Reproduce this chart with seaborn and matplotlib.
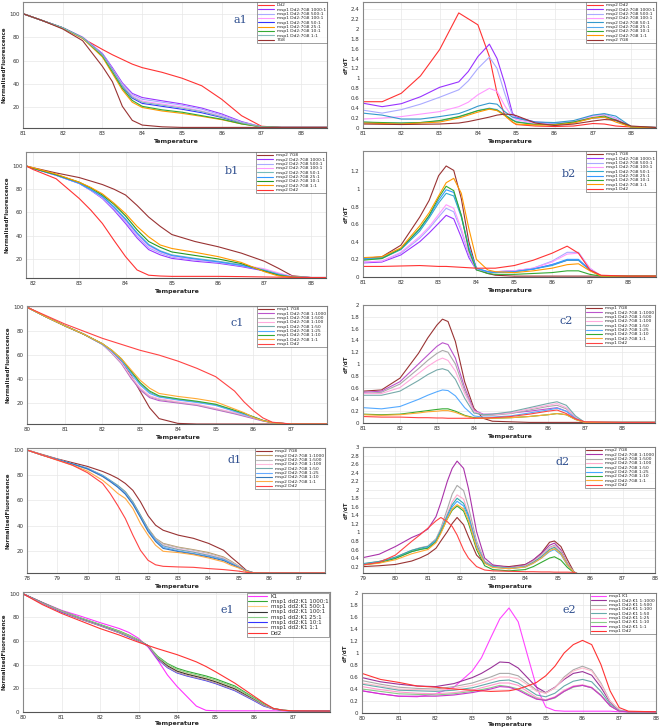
import numpy as np
import matplotlib
matplotlib.use("Agg")
import matplotlib.pyplot as plt
import seaborn as sns

sns.set_theme(style="whitegrid")
plt.rcParams['font.family'] = ['DejaVu Sans']

# ---------------- data ----------------
# a1: normalised fluorescence
A1_T = [81, 81.5, 82, 82.5, 83, 83.25, 83.5, 83.75, 84, 84.5, 85, 85.5, 86, 86.5, 87, 87.5, 88.65]
A1_LABELS = ["Dd2", "msp1 Dd2:7G8 1000:1", "msp1 Dd2:7G8 500:1", "msp1 Dd2:7G8 100:1",
             "msp1 Dd2:7G8 50:1", "msp1 Dd2:7G8 25:1", "msp1 Dd2:7G8 10:1", "msp1 Dd2:7G8 1:1", "7G8"]
A1_Y = [
    [100, 94, 88, 79, 69.5, 65, 61, 57, 54, 50, 45, 38.5, 27, 13, 4, 3, 3],
    [100, 94, 88, 80, 66, 54, 41, 32, 28.5, 25.7, 23, 19.5, 14.5, 8, 3.5, 3, 3],
    [100, 94, 88, 80, 65.5, 53, 40, 31, 27, 24.5, 22, 18.5, 13.5, 7.5, 3.5, 3, 3],
    [100, 94, 88, 80, 65, 52.5, 39, 30, 25.5, 23, 20.5, 17, 12.5, 7, 3.5, 3, 3],
    [100, 94, 88, 79.5, 65, 52, 38, 28, 23.5, 21, 18.5, 15.5, 11.5, 6.5, 3.5, 3, 3],
    [100, 94, 87.5, 79, 63, 49, 35, 24.5, 20, 17, 15, 12.4, 9.6, 6, 3.5, 3, 3],
    [100, 94, 88, 79.5, 64, 50.5, 36.5, 26, 21, 18, 16, 13, 10, 6, 3.5, 3, 3],
    [100, 94, 88, 79.5, 65, 52, 38.5, 29, 24.5, 22, 19.5, 16.5, 12, 7, 3.5, 3, 3],
    [100, 94, 87, 77, 55, 42, 21, 9, 5, 3.5, 3, 3, 3, 3, 3, 3, 3],
]

# a2: dF/dT
A2_T = [81, 81.5, 82, 82.5, 83, 83.5, 83.75, 84, 84.3, 84.5, 84.7, 84.9, 85, 85.5, 86, 86.5, 87, 87.3, 87.6, 88, 88.65]
A2_LABELS = ["msp2 Dd2", "msp2 Dd2:7G8 1000:1", "msp2 Dd2:7G8 500:1", "msp2 Dd2:7G8 100:1",
             "msp2 Dd2:7G8 50:1", "msp2 Dd2:7G8 25:1", "msp2 Dd2:7G8 10:1", "msp2 Dd2:7G8 1:1", "msp2 7G8"]
A2_Y = [
    [0.53, 0.53, 0.7, 1.05, 1.58, 2.32, 2.2, 2.08, 1.44, 0.7, 0.26, 0.12, 0.07, 0.04, 0.03, 0.04, 0.09, 0.08, 0.04, 0.02, 0.01],
    [0.5, 0.43, 0.49, 0.63, 0.82, 0.93, 1.14, 1.44, 1.69, 1.4, 0.9, 0.3, 0.22, 0.12, 0.1, 0.12, 0.2, 0.22, 0.15, 0.02, 0.01],
    [0.36, 0.3, 0.37, 0.48, 0.62, 0.77, 0.95, 1.2, 1.43, 1.2, 0.7, 0.26, 0.2, 0.1, 0.1, 0.12, 0.25, 0.28, 0.2, 0.02, 0.01],
    [0.18, 0.2, 0.23, 0.28, 0.33, 0.43, 0.52, 0.67, 0.8, 0.74, 0.45, 0.22, 0.17, 0.09, 0.08, 0.13, 0.24, 0.26, 0.18, 0.02, 0.01],
    [0.3, 0.26, 0.18, 0.18, 0.23, 0.29, 0.36, 0.44, 0.5, 0.48, 0.33, 0.22, 0.2, 0.12, 0.11, 0.15, 0.26, 0.29, 0.24, 0.03, 0.01],
    [0.12, 0.1, 0.1, 0.11, 0.14, 0.22, 0.28, 0.35, 0.4, 0.37, 0.27, 0.17, 0.13, 0.07, 0.08, 0.12, 0.2, 0.22, 0.15, 0.02, 0.01],
    [0.12, 0.11, 0.1, 0.11, 0.15, 0.23, 0.29, 0.35, 0.39, 0.36, 0.26, 0.16, 0.12, 0.07, 0.07, 0.12, 0.21, 0.24, 0.16, 0.02, 0.01],
    [0.1, 0.09, 0.08, 0.1, 0.12, 0.2, 0.26, 0.32, 0.38, 0.35, 0.25, 0.12, 0.08, 0.06, 0.06, 0.1, 0.2, 0.22, 0.12, 0.02, 0.01],
    [0.08, 0.075, 0.07, 0.075, 0.08, 0.1, 0.13, 0.17, 0.22, 0.26, 0.28, 0.27, 0.25, 0.1, 0.05, 0.08, 0.14, 0.17, 0.16, 0.04, 0.01],
]

# b1
B1_T = [81.85, 82, 82.5, 83, 83.25, 83.5, 83.75, 84, 84.25, 84.5, 84.75, 85, 85.5, 86, 86.5, 87, 87.3, 87.6, 88, 88.33]
B1_LABELS = ["msp2 7G8", "msp2 Dd2:7G8 1000:1", "msp2 Dd2:7G8 500:1", "msp2 Dd2:7G8 100:1",
             "msp2 Dd2:7G8 50:1", "msp2 Dd2:7G8 25:1", "msp2 Dd2:7G8 10:1", "msp2 Dd2:7G8 1:1", "msp2 Dd2"]
B1_Y = [
    [100, 98.5, 94, 90, 87, 84, 80, 75, 66, 56, 48, 41, 35, 30.5, 25, 18, 12, 5.5, 4, 4],
    [100, 98, 92, 85, 79, 72, 62, 50.5, 38, 28, 23.5, 20.5, 18, 16.3, 13.4, 9.7, 7, 4.5, 4, 4],
    [100, 98, 92, 85, 79, 72.5, 63, 52, 39.5, 29.5, 25, 21.5, 19, 17, 14, 10.5, 7.5, 4.7, 4, 4],
    [100, 98, 92, 85, 79.5, 73, 64, 53, 41, 31, 26, 22.5, 19.5, 17.5, 15, 11.5, 8, 5, 4, 4],
    [100, 98, 92.5, 85.5, 80, 74, 65, 54.5, 42.5, 32.5, 27, 23.5, 20.5, 18, 15, 10.5, 7, 4.5, 4, 4],
    [100, 98, 92, 85, 79.5, 73.5, 64.5, 54, 42, 32, 26.5, 23, 20, 17.5, 14.5, 10, 6.5, 4.5, 4, 4],
    [100, 98, 92.5, 86, 81, 75, 67, 57, 45, 35, 30, 26, 23, 20, 16, 9.5, 6, 4.3, 4, 4],
    [100, 98.5, 93, 86, 81.5, 76, 68, 59, 48, 39, 32, 29, 25.7, 22, 17, 9, 5.4, 4.3, 4, 4],
    [100, 97, 89, 72, 62, 50.5, 36, 22, 10.5, 6, 5.3, 5, 5, 5, 4.8, 4.5, 4.3, 4.2, 4, 4],
]

# b2
B2_T = [81, 81.5, 82, 82.5, 82.75, 83, 83.2, 83.4, 83.6, 83.8, 84, 84.3, 84.5, 85, 85.5, 86, 86.4, 86.7, 87, 87.3, 88, 88.75]
B2_LABELS = ["msp1 7G8", "msp1 Dd2:7G8 1000:1", "msp1 Dd2:7G8 500:1", "msp1 Dd2:7G8 100:1",
             "msp1 Dd2:7G8 50:1", "msp1 Dd2:7G8 25:1", "msp1 Dd2:7G8 10:1", "msp1 Dd2:7G8 1:1", "msp1 Dd2"]
B2_Y = [
    [0.21, 0.23, 0.36, 0.68, 0.87, 1.15, 1.26, 1.21, 0.89, 0.4, 0.09, 0.04, 0.02, 0.01, 0.01, 0.01, 0.01, 0.01, 0.01, 0.01, 0.01, 0.01],
    [0.16, 0.17, 0.25, 0.4, 0.5, 0.61, 0.7, 0.66, 0.45, 0.22, 0.08, 0.06, 0.06, 0.07, 0.09, 0.14, 0.19, 0.19, 0.08, 0.01, 0.01, 0.01],
    [0.17, 0.18, 0.27, 0.44, 0.55, 0.68, 0.78, 0.74, 0.52, 0.25, 0.08, 0.06, 0.06, 0.07, 0.1, 0.18, 0.28, 0.28, 0.1, 0.01, 0.01, 0.01],
    [0.17, 0.18, 0.28, 0.46, 0.57, 0.71, 0.82, 0.78, 0.55, 0.27, 0.09, 0.06, 0.06, 0.07, 0.1, 0.17, 0.26, 0.27, 0.1, 0.01, 0.01, 0.01],
    [0.2, 0.21, 0.31, 0.52, 0.67, 0.84, 0.95, 0.92, 0.68, 0.33, 0.1, 0.06, 0.05, 0.06, 0.09, 0.13, 0.19, 0.19, 0.08, 0.01, 0.01, 0.01],
    [0.21, 0.22, 0.32, 0.54, 0.69, 0.87, 0.99, 0.96, 0.7, 0.33, 0.1, 0.06, 0.05, 0.06, 0.09, 0.14, 0.2, 0.2, 0.08, 0.01, 0.01, 0.01],
    [0.19, 0.21, 0.32, 0.55, 0.7, 0.9, 1.03, 0.98, 0.7, 0.3, 0.08, 0.04, 0.03, 0.03, 0.04, 0.05, 0.07, 0.07, 0.03, 0.01, 0.01, 0.01],
    [0.22, 0.23, 0.33, 0.58, 0.73, 0.92, 1.07, 1.12, 0.95, 0.55, 0.2, 0.08, 0.06, 0.05, 0.07, 0.1, 0.14, 0.15, 0.07, 0.01, 0.01, 0.01],
    [0.12, 0.12, 0.125, 0.13, 0.125, 0.12, 0.12, 0.115, 0.11, 0.105, 0.1, 0.1, 0.1, 0.13, 0.19, 0.27, 0.35, 0.27, 0.08, 0.02, 0.01, 0.01],
]

# c1
C1_T = [80, 80.5, 81, 81.5, 82, 82.25, 82.5, 82.75, 83, 83.25, 83.5, 84, 84.5, 85, 85.5, 85.75, 86, 86.25, 86.5, 87, 88]
C1_LABELS = ["msp1 7G8", "msp1 Dd2:7G8 1:1000", "msp1 Dd2:7G8 1:500", "msp1 Dd2:7G8 1:100",
             "msp1 Dd2:7G8 1:50", "msp1 Dd2:7G8 1:25", "msp1 Dd2:7G8 1:10", "msp1 Dd2:7G8 1:1", "msp1 Dd2"]
C1_Y = [
    [100, 92, 84.5, 77.5, 69, 63, 54.5, 43.5, 29.7, 16, 7, 3, 2.5, 2.5, 2.5, 2.5, 2.5, 2.5, 2.5, 2.5, 2.5],
    [100, 92, 84.5, 77.5, 69, 61.5, 53, 41, 31, 24.5, 22, 20, 18, 14.5, 11, 9, 7, 5, 3.5, 2.5, 2.5],
    [100, 92, 84.5, 77.5, 69, 61.5, 53.5, 42, 32, 25.5, 23, 20.5, 18.5, 15, 11.5, 9.5, 7.5, 5.5, 3.7, 2.5, 2.5],
    [100, 92, 84.5, 77.5, 69, 62, 54, 42.5, 32.5, 26, 23.5, 21, 19, 15.5, 12, 10, 7.8, 5.5, 3.7, 2.5, 2.5],
    [100, 92, 84.5, 77.5, 69.5, 63.5, 56, 46, 36, 29, 25.5, 23, 21, 18.5, 13.5, 11, 8.5, 5.5, 3.6, 2.5, 2.5],
    [100, 92, 84.5, 77.5, 69, 63, 55.5, 45, 35, 28, 25, 22.5, 20.5, 18, 13, 10.5, 8, 5.3, 3.5, 2.5, 2.5],
    [100, 92, 84.5, 77.5, 69.5, 64, 57, 47, 37, 30, 26, 23.5, 21.5, 19, 14, 11.5, 8.5, 5.5, 3.6, 2.5, 2.5],
    [100, 92, 84.5, 77.5, 69.5, 64, 57, 48, 39, 32.4, 28, 25.5, 23.6, 21, 15, 12, 8, 5.3, 3.5, 2.5, 2.5],
    [100, 93, 86, 80, 74, 71.5, 69, 66.5, 64, 62, 60, 55, 49, 42, 30, 21, 13.6, 7.6, 4, 2.5, 2.5],
]

# c2
C2_T = [81, 81.5, 82, 82.5, 82.75, 83, 83.15, 83.3, 83.5, 83.75, 84, 84.25, 84.5, 85, 85.5, 86, 86.25, 86.5, 86.75, 87, 88, 88.9]
C2_LABELS = C1_LABELS
C2_Y = [
    [0.54, 0.56, 0.76, 1.18, 1.44, 1.66, 1.76, 1.72, 1.38, 0.7, 0.25, 0.08, 0.03, 0.02, 0.01, 0.01, 0.01, 0.01, 0.01, 0.01, 0.01, 0.01],
    [0.52, 0.54, 0.7, 1.0, 1.15, 1.3, 1.36, 1.33, 1.1, 0.6, 0.22, 0.15, 0.15, 0.17, 0.2, 0.24, 0.26, 0.2, 0.08, 0.01, 0.01, 0.01],
    [0.5, 0.52, 0.66, 0.92, 1.06, 1.18, 1.23, 1.2, 1.0, 0.55, 0.2, 0.13, 0.13, 0.16, 0.22, 0.28, 0.3, 0.24, 0.1, 0.01, 0.01, 0.01],
    [0.5, 0.5, 0.6, 0.84, 0.96, 1.06, 1.1, 1.06, 0.88, 0.5, 0.2, 0.14, 0.14, 0.17, 0.24, 0.3, 0.33, 0.26, 0.1, 0.01, 0.01, 0.01],
    [0.47, 0.47, 0.54, 0.72, 0.82, 0.9, 0.92, 0.89, 0.74, 0.42, 0.17, 0.14, 0.15, 0.19, 0.26, 0.33, 0.36, 0.3, 0.12, 0.01, 0.01, 0.01],
    [0.26, 0.24, 0.28, 0.4, 0.47, 0.53, 0.56, 0.55, 0.46, 0.26, 0.12, 0.1, 0.1, 0.12, 0.17, 0.22, 0.25, 0.2, 0.08, 0.01, 0.01, 0.01],
    [0.15, 0.14, 0.15, 0.19, 0.21, 0.23, 0.24, 0.24, 0.2, 0.13, 0.09, 0.08, 0.08, 0.09, 0.11, 0.14, 0.16, 0.14, 0.06, 0.01, 0.01, 0.01],
    [0.14, 0.13, 0.14, 0.17, 0.19, 0.2, 0.21, 0.21, 0.18, 0.12, 0.08, 0.08, 0.08, 0.09, 0.11, 0.14, 0.16, 0.14, 0.06, 0.01, 0.01, 0.01],
    [0.11, 0.1, 0.1, 0.09, 0.09, 0.085, 0.085, 0.08, 0.08, 0.08, 0.08, 0.085, 0.09, 0.11, 0.15, 0.2, 0.22, 0.16, 0.07, 0.02, 0.01, 0.01],
]

# d1
D1_T = [78, 78.5, 79, 79.5, 80, 80.5, 80.75, 81, 81.25, 81.5, 81.75, 82, 82.25, 82.5, 83, 83.5, 84, 84.5, 84.75, 85, 85.25, 85.5, 86, 87, 87.9]
D1_LABELS = ["msp2 7G8", "msp2 Dd2:7G8 1:1000", "msp2 Dd2:7G8 1:500", "msp2 Dd2:7G8 1:100",
             "msp2 Dd2:7G8 1:50", "msp2 Dd2:7G8 1:25", "msp2 Dd2:7G8 1:10", "msp2 Dd2:7G8 1:1", "msp2 Dd2"]
D1_Y = [
    [100, 96.5, 93, 90, 87, 83, 80.5, 77.5, 73.5, 68, 59, 48, 40.4, 36.4, 32.5, 30, 26, 20.5, 15, 10, 4.6, 2.6, 2.5, 2.5, 2.5],
    [100, 96, 92.5, 89, 85, 79.5, 75.5, 71.5, 66.5, 58.5, 48, 38, 30, 26, 23, 21, 18.7, 15.2, 11.8, 8, 4, 2.6, 2.5, 2.5, 2.5],
    [100, 96, 92.5, 89, 85, 79.5, 75.5, 71.5, 66.5, 58.5, 48, 37.5, 29.5, 25.5, 22.5, 20.5, 18, 14.5, 11.3, 7.7, 4, 2.6, 2.5, 2.5, 2.5],
    [100, 96, 92.5, 89, 85, 79, 75, 71, 66, 58, 47.5, 37, 29, 24.5, 21.5, 19.5, 17, 14, 10.8, 7.4, 4, 2.6, 2.5, 2.5, 2.5],
    [100, 96, 92.5, 89, 85.5, 80, 76, 72, 67, 59, 48.5, 37.5, 29, 24, 21, 19, 16.5, 13.5, 10.5, 7.2, 4, 2.6, 2.5, 2.5, 2.5],
    [100, 96, 92.5, 89, 85.5, 79.5, 75.5, 71, 65.6, 57.6, 47, 36.4, 28.5, 23, 20, 18, 15.8, 13, 10, 7, 4, 2.6, 2.5, 2.5, 2.5],
    [100, 96, 92.5, 89, 85, 79, 75, 70.5, 65, 57, 46.5, 35.5, 27.5, 22, 19.5, 17.5, 15.2, 12.3, 9.5, 6.8, 4, 2.6, 2.5, 2.5, 2.5],
    [100, 96, 92, 88, 83.3, 76, 71, 65.6, 61.6, 53.6, 41.7, 32.5, 24.5, 19.7, 18.7, 17, 14.4, 11.3, 8.6, 6.5, 3.8, 2.6, 2.5, 2.5, 2.5],
    [100, 96, 92, 88, 82, 73.5, 65.5, 56, 45.7, 32.5, 20.5, 12.6, 9, 7.8, 7.3, 7, 6, 5.2, 4.6, 4, 3, 2.5, 2.5, 2.5, 2.5],
]

# d2
D2_T = [79, 79.5, 80, 80.5, 80.75, 81, 81.25, 81.4, 81.6, 81.75, 81.9, 82.1, 82.25, 82.5, 82.75, 83, 83.5,
        84, 84.25, 84.5, 84.75, 84.9, 85.1, 85.3, 85.5, 85.7, 86, 87, 88]
D2_LABELS = D1_LABELS
D2_Y = [
    [0.2, 0.22, 0.25, 0.33, 0.4, 0.49, 0.63, 0.8, 1.02, 1.21, 1.35, 1.18, 0.9, 0.47, 0.28, 0.22, 0.2, 0.25, 0.35, 0.52, 0.77, 0.8, 0.67, 0.36, 0.08, 0.0, 0.0, 0.0, 0.0],
    [0.41, 0.49, 0.67, 0.88, 0.96, 1.08, 1.37, 1.7, 2.2, 2.5, 2.67, 2.5, 2.03, 1.02, 0.4, 0.24, 0.18, 0.24, 0.36, 0.51, 0.7, 0.75, 0.59, 0.28, 0.07, 0.0, 0.0, 0.0, 0.0],
    [0.26, 0.32, 0.42, 0.58, 0.64, 0.68, 0.85, 1.1, 1.55, 1.9, 2.1, 1.98, 1.6, 0.8, 0.33, 0.21, 0.17, 0.22, 0.33, 0.47, 0.65, 0.7, 0.56, 0.27, 0.07, 0.0, 0.0, 0.0, 0.0],
    [0.26, 0.32, 0.42, 0.57, 0.63, 0.67, 0.83, 1.06, 1.45, 1.72, 1.88, 1.78, 1.45, 0.74, 0.31, 0.2, 0.16, 0.21, 0.32, 0.45, 0.63, 0.68, 0.55, 0.26, 0.07, 0.0, 0.0, 0.0, 0.0],
    [0.27, 0.32, 0.42, 0.58, 0.63, 0.67, 0.82, 1.05, 1.4, 1.65, 1.8, 1.68, 1.4, 0.7, 0.3, 0.2, 0.16, 0.2, 0.3, 0.43, 0.6, 0.65, 0.52, 0.25, 0.07, 0.0, 0.0, 0.0, 0.0],
    [0.25, 0.3, 0.4, 0.55, 0.6, 0.65, 0.8, 1.02, 1.36, 1.6, 1.73, 1.62, 1.35, 0.68, 0.29, 0.19, 0.15, 0.19, 0.28, 0.4, 0.55, 0.6, 0.48, 0.23, 0.07, 0.0, 0.0, 0.0, 0.0],
    [0.24, 0.29, 0.39, 0.55, 0.6, 0.63, 0.78, 1.0, 1.32, 1.52, 1.62, 1.5, 1.22, 0.6, 0.22, 0.13, 0.1, 0.13, 0.2, 0.3, 0.4, 0.43, 0.35, 0.18, 0.06, 0.0, 0.0, 0.0, 0.0],
    [0.24, 0.28, 0.36, 0.5, 0.55, 0.6, 0.76, 0.98, 1.32, 1.55, 1.65, 1.55, 1.28, 0.65, 0.28, 0.18, 0.15, 0.19, 0.28, 0.4, 0.57, 0.62, 0.5, 0.24, 0.07, 0.0, 0.0, 0.0, 0.0],
    [0.24, 0.3, 0.47, 0.79, 0.94, 1.1, 1.27, 1.35, 1.25, 1.14, 0.94, 0.59, 0.4, 0.2, 0.12, 0.1, 0.09, 0.08, 0.08, 0.075, 0.075, 0.07, 0.07, 0.07, 0.065, 0.0, 0.0, 0.0, 0.0],
]

# e1
E1_T = [80, 80.5, 81, 81.5, 82, 82.5, 82.75, 83, 83.25, 83.5, 83.75, 84, 84.25, 84.5, 84.75, 85, 85.5, 86, 86.25, 86.5, 86.75, 87, 88, 88.2]
E1_LABELS = ["K1", "msp1 dd2:K1 1000:1", "msp1 dd2:K1 500:1", "msp1 dd2:K1 100:1",
             "msp1 dd2:K1 25:1", "msp1 dd2:K1 10:1", "msp1 dd2:K1 1:1", "Dd2"]
E1_Y = [
    [100, 92.8, 86, 81, 75.6, 70.6, 67.3, 62.3, 54.8, 43.8, 31.3, 21.6, 13.3, 5, 1.4, 1, 1, 1, 1, 1, 0.9, 0.8, 0.8, 0.8],
    [100, 92.5, 85.5, 79.5, 74, 68.5, 65, 61, 56, 47, 41, 37, 34.5, 32.5, 30.5, 28, 22, 12, 7, 3, 1.5, 1, 0.8, 0.8],
    [100, 92.5, 85, 79, 73.5, 68, 64.5, 60.5, 56, 46, 39.5, 35, 32.5, 30.5, 28.5, 26, 20, 11, 6, 2.8, 1.4, 1, 0.8, 0.8],
    [100, 92.5, 85, 79, 73.5, 67.5, 64, 60.5, 56, 45.5, 39, 34.5, 32, 30, 28, 25.5, 19.5, 10.5, 6, 2.8, 1.4, 1, 0.8, 0.8],
    [100, 92.5, 85.5, 79.5, 74, 68, 64.5, 61, 56, 46.5, 40.5, 36, 33.5, 31.5, 29.5, 27, 21, 11.5, 6.5, 3, 1.5, 1, 0.8, 0.8],
    [100, 92, 84.5, 78.5, 73, 67, 63.5, 60, 56, 44.5, 37.5, 33, 30.5, 28.5, 26.5, 24, 18, 9.5, 5, 2.5, 1.3, 1, 0.8, 0.8],
    [100, 92, 85, 78.5, 73, 67, 64, 60, 56, 45, 38, 33.5, 31, 29, 27, 24.5, 18.5, 10, 5.5, 2.5, 1.3, 1, 0.8, 0.8],
    [100, 90.9, 83.4, 77, 70.6, 65.1, 62, 59, 56.2, 53.5, 51, 48.5, 45.5, 42.4, 38.5, 34, 24.4, 13.3, 7.8, 3, 1.5, 1, 0.8, 0.8],
]

# e2
E2_T = [80, 80.5, 81, 81.5, 82, 82.5, 83, 83.25, 83.5, 83.75, 84, 84.25, 84.5, 84.75, 85, 85.25, 85.5, 85.75, 86, 86.25, 86.5, 86.75, 87, 87.25, 88]
E2_LABELS = ["msp1 K1", "msp1 Dd2:K1 1:1000", "msp1 Dd2:K1 1:500", "msp1 Dd2:K1 1:100",
             "msp1 Dd2:K1 1:50", "msp1 Dd2:K1 1:25", "msp1 Dd2:K1 1:10", "msp1 Dd2:K1 1:1", "msp1 Dd2"]
E2_Y = [
    [0.37, 0.32, 0.28, 0.27, 0.32, 0.43, 0.7, 0.92, 1.25, 1.57, 1.75, 1.52, 0.97, 0.43, 0.1, 0.04, 0.03, 0.03, 0.03, 0.03, 0.03, 0.03, 0.02, 0.02, 0.02],
    [0.59, 0.52, 0.48, 0.45, 0.44, 0.49, 0.59, 0.66, 0.75, 0.85, 0.84, 0.75, 0.59, 0.43, 0.34, 0.43, 0.56, 0.66, 0.69, 0.63, 0.43, 0.18, 0.04, 0.02, 0.02],
    [0.54, 0.48, 0.43, 0.41, 0.4, 0.44, 0.5, 0.55, 0.6, 0.66, 0.66, 0.62, 0.5, 0.38, 0.33, 0.42, 0.6, 0.72, 0.78, 0.72, 0.5, 0.2, 0.05, 0.02, 0.02],
    [0.5, 0.45, 0.4, 0.39, 0.38, 0.41, 0.46, 0.5, 0.55, 0.6, 0.6, 0.57, 0.47, 0.36, 0.33, 0.42, 0.58, 0.7, 0.75, 0.7, 0.48, 0.2, 0.05, 0.02, 0.02],
    [0.48, 0.43, 0.38, 0.37, 0.36, 0.38, 0.42, 0.46, 0.5, 0.54, 0.55, 0.5, 0.4, 0.3, 0.27, 0.33, 0.45, 0.53, 0.56, 0.52, 0.36, 0.15, 0.04, 0.02, 0.02],
    [0.44, 0.39, 0.35, 0.33, 0.32, 0.34, 0.38, 0.42, 0.46, 0.5, 0.5, 0.46, 0.36, 0.26, 0.22, 0.27, 0.38, 0.45, 0.47, 0.43, 0.3, 0.12, 0.03, 0.02, 0.02],
    [0.4, 0.36, 0.32, 0.31, 0.3, 0.32, 0.36, 0.39, 0.42, 0.46, 0.44, 0.4, 0.32, 0.24, 0.21, 0.25, 0.36, 0.43, 0.46, 0.42, 0.3, 0.12, 0.03, 0.02, 0.02],
    [0.37, 0.32, 0.28, 0.28, 0.28, 0.3, 0.34, 0.37, 0.4, 0.44, 0.43, 0.38, 0.3, 0.23, 0.21, 0.26, 0.36, 0.44, 0.46, 0.42, 0.29, 0.12, 0.03, 0.02, 0.02],
    [0.66, 0.56, 0.51, 0.45, 0.43, 0.4, 0.38, 0.37, 0.36, 0.365, 0.37, 0.4, 0.45, 0.51, 0.62, 0.78, 1.0, 1.14, 1.21, 1.14, 0.81, 0.37, 0.09, 0.03, 0.02],
]

# ---------------- colours ----------------
A1_COLORS = ['#ff3333', '#9933ff', '#aaaaff', '#ff99ff', '#3333ff', '#ff9900', '#33aa33', '#88bbbb', '#993333']
A2_COLORS = ['#ff3333', '#9933ff', '#aaaaff', '#ff99ff', '#3399cc', '#55aaee', '#33aa33', '#ff9900', '#993333']
B1_COLORS = ['#993333', '#9933ff', '#aaaaff', '#ff99ff', '#77bbbb', '#3399ff', '#229922', '#ff9900', '#ff3333']
B2_COLORS = ['#993333', '#9933ff', '#aaaaff', '#ff99ff', '#33aacc', '#3399ff', '#33aa33', '#ff9900', '#ff3333']
C_COLORS = ['#993333', '#bb55cc', '#aaaaaa', '#ffaadd', '#77aaaa', '#55aaff', '#33aa33', '#ffaa33', '#ff4444']
D_COLORS = ['#993333', '#aa33aa', '#aaaaaa', '#ffaacc', '#33aaaa', '#44aaff', '#33aa33', '#ffaa33', '#ff4444']
D1_COLORS = ['#993333', '#bb9966', '#bbbbbb', '#ffbbdd', '#77aaaa', '#66aaff', '#3377bb', '#ffaa44', '#ff4444']
E1_COLORS = ['#ff33ff', '#33aa33', '#ffcc88', '#333333', '#88cc88', '#3333ff', '#bb9999', '#ff3333']
E2_COLORS = ['#ff44ff', '#993399', '#aaaaaa', '#ffbbcc', '#66aaaa', '#ff99cc', '#88cc88', '#cc33cc', '#ff3333']

W, H = 660, 728
fig = plt.figure(figsize=(W / 100, H / 100), dpi=100)
fig.patch.set_facecolor('white')


def make_ax(l, r, t, b):
    return fig.add_axes([l / W, 1 - b / H, (r - l) / W, (b - t) / H])


def panel(box, T, Y, labels, colors, xlim, ylim, xticks, yticks, ylabel, tag=None,
          tag_xy=(0.7, 0.86), leg_fs=3.2, xpad=1.5):
    ax = make_ax(*box)
    for y, lab, c in zip(Y, labels, colors):
        sns.lineplot(x=T, y=y, ax=ax, color=c, linewidth=0.8, label=lab,
                     sort=False, estimator=None)
    ax.set_xlim(*xlim)
    ax.set_ylim(*ylim)
    ax.set_xticks(xticks)
    ax.set_yticks(yticks)
    ax.set_xticklabels([f"{v:g}" for v in xticks])
    ax.set_yticklabels([f"{v:g}" for v in yticks])
    ax.tick_params(labelsize=4, length=1.5, pad=1, colors='#333333')
    ax.grid(True, color='#e8e8e8', linewidth=0.5)
    ax.set_facecolor('white')
    for s in ax.spines.values():
        s.set_color('#888888')
        s.set_linewidth(0.8)
    ax.spines['bottom'].set_color('#555555')
    ax.set_xlabel('Temperature', fontsize=4.5, fontweight='bold', labelpad=xpad)
    ax.set_ylabel(ylabel, fontsize=4, fontweight='bold', labelpad=2)
    leg = ax.legend(loc='upper right', fontsize=leg_fs, frameon=True, fancybox=False,
                    borderaxespad=0.1, labelspacing=0.05, handlelength=3.5,
                    handletextpad=0.6, borderpad=0.2)
    leg.get_frame().set_edgecolor('#555555')
    leg.get_frame().set_linewidth(0.5)
    if tag:
        ax.text(tag_xy[0], tag_xy[1], tag, transform=ax.transAxes, fontsize=8,
                family='DejaVu Serif', color='#2f4f8f', ha='center', va='center')
    return ax


NF = 'NormalisedFluorescence'
DF = 'dF/dT'

panel((23, 327, 2, 128), A1_T, A1_Y, A1_LABELS, A1_COLORS, (81, 88.65), (2.5, 110),
      range(81, 89), [20, 40, 60, 80, 100], NF, 'a1', (0.714, 0.857))
panel((363, 656, 2, 128), A2_T, A2_Y, A2_LABELS, A2_COLORS, (81, 88.65), (0, 2.54),
      range(81, 89), np.round(np.arange(0, 2.41, 0.2), 1), DF)
panel((26, 326, 152, 278), B1_T, B1_Y, B1_LABELS, B1_COLORS, (81.85, 88.33), (3.6, 112),
      range(82, 89), [20, 40, 60, 80, 100], NF, 'b1', (0.687, 0.85))
panel((363, 656, 151, 277), B2_T, B2_Y, B2_LABELS, B2_COLORS, (81, 88.75), (0, 1.43),
      range(81, 89), np.round(np.arange(0, 1.21, 0.2), 1), DF, 'b2', (0.703, 0.82))
panel((27, 327, 306, 424), C1_T, C1_Y, C1_LABELS, C_COLORS, (80, 87.95), (2.5, 101),
      range(80, 88), [20, 40, 60, 80, 100], NF, 'c1', (0.7, 0.856))
panel((363, 655, 305, 423), C2_T, C2_Y, C2_LABELS, C_COLORS, (81, 88.9), (0, 2.0),
      range(81, 89), np.round(np.arange(0, 2.01, 0.2), 1), DF, 'c2', (0.695, 0.864))
panel((27, 325, 448, 573), D1_T, D1_Y, D1_LABELS, D1_COLORS, (78, 87.85), (2.5, 101.6),
      range(78, 88), [20, 40, 60, 80, 100], NF, 'd1', (0.698, 0.904))
panel((363, 655, 447, 573), D2_T, D2_Y, D2_LABELS, D_COLORS, (79, 88), (0.05, 3.0),
      range(79, 89), np.round(np.arange(0.2, 3.01, 0.2), 1), DF, 'd2', (0.685, 0.88))
panel((23, 330, 592, 712), E1_T, E1_Y, E1_LABELS, E1_COLORS, (80, 87.97), (0, 101.5),
      range(80, 88), [0, 20, 40, 60, 80, 100], NF, 'e1', (0.664, 0.85), leg_fs=4, xpad=0.3)
panel((362, 656, 593, 713), E2_T, E2_Y, E2_LABELS, E2_COLORS, (80, 88), (0, 2.0),
      range(80, 89), np.round(np.arange(0, 2.01, 0.2), 1), DF, 'e2', (0.704, 0.86), xpad=0.3)

fig.savefig('out.png', dpi=100, facecolor='white')
